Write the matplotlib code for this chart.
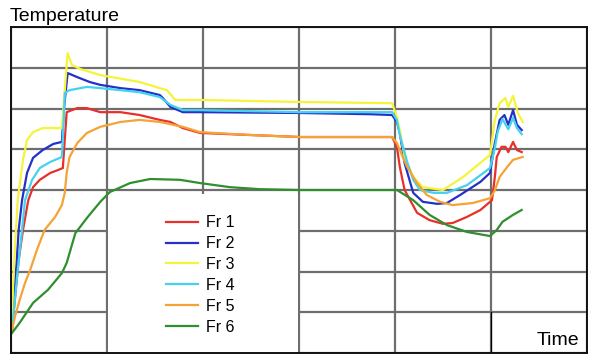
import matplotlib
matplotlib.use("Agg")
import matplotlib.pyplot as plt
from matplotlib.patches import Rectangle

plt.rcParams['font.family'] = ['Liberation Sans', 'DejaVu Sans']

# time in grid columns (0..6), temperature in grid rows (0..8)
t_fr1 = [0.01, 0.04, 0.08, 0.125, 0.18, 0.23, 0.30, 0.41, 0.49, 0.54, 0.56, 0.58, 0.69, 0.79,
         0.93, 1.14, 1.34, 1.55, 1.66, 1.79, 1.97, 2.49, 3.01, 3.97, 4.02, 4.05, 4.10, 4.23,
         4.36, 4.50, 4.60, 4.75, 4.89, 5.01, 5.04, 5.06, 5.11, 5.15, 5.18, 5.23, 5.27, 5.32]
y_fr1 = [0.56, 1.30, 2.28, 3.02, 3.75, 4.07, 4.25, 4.42, 4.49, 4.54, 5.23, 5.91, 6.01, 6.01,
         5.91, 5.91, 5.84, 5.72, 5.67, 5.52, 5.40, 5.35, 5.30, 5.30, 5.06, 4.57, 4.00, 3.44,
         3.26, 3.17, 3.19, 3.34, 3.51, 3.75, 4.32, 4.81, 5.06, 5.06, 4.93, 5.18, 4.98, 4.93]

t_fr2 = [0.01, 0.03, 0.06, 0.08, 0.115, 0.167, 0.23, 0.33, 0.44, 0.53, 0.55, 0.59, 0.69, 0.82,
         0.93, 1.14, 1.34, 1.55, 1.58, 1.66, 1.79, 1.97, 3.01, 3.74, 3.97, 4.02, 4.05, 4.10,
         4.19, 4.29, 4.44, 4.54, 4.68, 4.89, 4.99, 5.04, 5.09, 5.14, 5.18, 5.23, 5.27, 5.32]
y_fr2 = [0.56, 1.30, 2.28, 3.02, 3.75, 4.42, 4.79, 4.98, 5.13, 5.18, 5.96, 6.87, 6.77, 6.65,
         6.58, 6.50, 6.45, 6.33, 6.26, 6.04, 5.91, 5.91, 5.89, 5.86, 5.84, 5.67, 5.40, 4.66,
         3.93, 3.71, 3.66, 3.68, 3.88, 4.20, 4.42, 5.15, 5.72, 5.84, 5.60, 5.96, 5.60, 5.47]

t_fr3 = [0.01, 0.02, 0.04, 0.07, 0.125, 0.167, 0.23, 0.33, 0.53, 0.56, 0.59, 0.635, 0.72,
         0.93, 1.34, 1.55, 1.625, 1.71, 1.97, 3.01, 3.97, 4.02, 4.05, 4.10, 4.19, 4.29, 4.5,
         4.71, 4.99, 5.04, 5.09, 5.15, 5.18, 5.23, 5.28, 5.33]
y_fr3 = [0.56, 1.55, 2.53, 3.75, 4.74, 5.23, 5.42, 5.52, 5.52, 6.45, 7.36, 7.07, 6.97,
         6.82, 6.65, 6.50, 6.45, 6.21, 6.21, 6.16, 6.13, 5.79, 5.47, 4.81, 4.32, 4.07, 4.0,
         4.32, 4.86, 5.72, 6.13, 6.26, 6.04, 6.31, 5.89, 5.67]

t_fr4 = [0.01, 0.04, 0.07, 0.104, 0.146, 0.22, 0.30, 0.41, 0.53, 0.55, 0.56, 0.61, 0.79,
         0.93, 1.14, 1.34, 1.55, 1.66, 1.79, 1.97, 3.01, 3.97, 4.02, 4.05, 4.13, 4.19, 4.26,
         4.40, 4.54, 4.75, 4.99, 5.04, 5.07, 5.12, 5.18, 5.23, 5.27, 5.32]
y_fr4 = [0.56, 1.30, 2.04, 2.77, 3.75, 4.25, 4.54, 4.69, 4.81, 5.77, 6.38, 6.45, 6.53,
         6.50, 6.45, 6.40, 6.28, 6.09, 5.96, 5.96, 5.91, 5.91, 5.72, 5.35, 4.66, 4.25, 4.0,
         3.93, 3.93, 4.12, 4.54, 5.03, 5.44, 5.74, 5.49, 5.77, 5.52, 5.37]

t_fr5 = [0.01, 0.04, 0.09, 0.146, 0.20, 0.27, 0.35, 0.46, 0.53, 0.56, 0.58, 0.61, 0.69,
         0.79, 0.93, 1.14, 1.34, 1.55, 1.79, 1.97, 2.49, 3.01, 3.97, 4.02, 4.05, 4.125, 4.23,
         4.33, 4.47, 4.60, 4.81, 4.99, 5.04, 5.09, 5.17, 5.23, 5.33]
y_fr5 = [0.56, 0.88, 1.30, 1.72, 2.04, 2.53, 3.02, 3.34, 3.63, 3.93, 4.42, 4.81, 5.15,
         5.40, 5.55, 5.67, 5.72, 5.67, 5.55, 5.42, 5.35, 5.30, 5.30, 5.15, 4.98, 4.57, 4.17,
         3.88, 3.71, 3.63, 3.68, 3.80, 3.99, 4.32, 4.57, 4.74, 4.81]

t_fr6 = [0.01, 0.09, 0.23, 0.385, 0.53, 0.58, 0.67, 0.80, 0.93, 1.03, 1.24, 1.45, 1.76,
         1.97, 2.28, 2.59, 3.01, 4.02, 4.19, 4.36, 4.54, 4.75, 4.99, 5.06, 5.12, 5.23, 5.32]
y_fr6 = [0.49, 0.74, 1.23, 1.55, 1.96, 2.21, 2.94, 3.34, 3.71, 3.95, 4.17, 4.27, 4.25,
         4.17, 4.07, 4.02, 4.0, 4.0, 3.75, 3.39, 3.14, 2.97, 2.87, 3.02, 3.22, 3.39, 3.51]

labels = ["Fr 1", "Fr 2", "Fr 3", "Fr 4", "Fr 5", "Fr 6"]
colors = ["#e8302a", "#2430c8", "#f4f43a", "#44d2f0", "#f5a336", "#2f8f2f"]

fig = plt.figure(figsize=(5.93, 3.6), dpi=100)
ax = fig.add_axes([11 / 593, 7 / 360, 576 / 593, 326 / 360])

series = [(t_fr1, y_fr1), (t_fr2, y_fr2), (t_fr3, y_fr3),
          (t_fr4, y_fr4), (t_fr5, y_fr5), (t_fr6, y_fr6)]
handles = []
for (t, y), lab, c in zip(series, labels, colors):
  h, = ax.plot(t, y, color=c, lw=1.6, label=lab, zorder=2, solid_joinstyle='round')
  handles.append(h)

ax.set_xlim(0, 6)
ax.set_ylim(0, 8)
ax.set_xticks(range(0, 7))
ax.set_yticks(range(0, 9))
ax.tick_params(length=0, labelbottom=False, labelleft=False)
ax.set_axisbelow(True)
ax.grid(True, color="#6e6e6e", lw=1.6)
for s in ax.spines.values():
  s.set_color("#111111")
  s.set_linewidth(1.4)

# white block behind the legend hides the grid there
ax.add_patch(Rectangle((0.168, 0.0), 0.33, 0.488, transform=ax.transAxes,
                       facecolor="white", edgecolor="none", zorder=1))
ax.axvline(5, ymin=0, ymax=0.125, color="black", lw=0.9, zorder=1.5)

ax.legend(handles=handles, loc="upper left", bbox_to_anchor=(0.255, 0.447),
          frameon=False, fontsize=11.5, handlelength=2.0, handletextpad=0.5,
          labelspacing=0.37, borderpad=0)

fig.text(10 / 593, 1 - 21 / 360, "Temperature", fontsize=14, va="baseline", ha="left")
ax.text((579 - 11) / 576, (353 - 345) / 326, "Time", transform=ax.transAxes,
        fontsize=14, ha="right", va="baseline")

fig.savefig("out.png", dpi=100)
